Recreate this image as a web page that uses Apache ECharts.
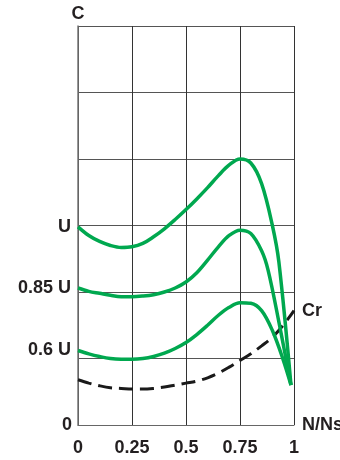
<!DOCTYPE html>
<html>
<head>
<meta charset="utf-8">
<script src="https://cdn.jsdelivr.net/npm/echarts@6/dist/echarts.min.js"></script>
<style>
html,body{margin:0;padding:0;background:#fff;}
#c{width:340px;height:460px;}
</style>
</head>
<body>
<div id="c"></div>
<script>
// Data (y in grid units: 0..6)
var xTickLabels = ['0', '0.25', '0.5', '0.75', '1'];
var curveNames = ['U', '0.85 U', '0.6 U'];

var xU = [0, 0.05, 0.1, 0.15, 0.2, 0.25, 0.3, 0.35, 0.4, 0.45, 0.5, 0.55, 0.6, 0.65, 0.7, 0.75, 0.8, 0.85, 0.9, 0.93, 0.986];
var yU = [2.98, 2.85, 2.76, 2.70, 2.67, 2.68, 2.73, 2.83, 2.95, 3.09, 3.24, 3.40, 3.57, 3.75, 3.91, 4.0, 3.94, 3.63, 3.0, 2.45, 0.6];

var x085 = [0, 0.05, 0.1, 0.15, 0.2, 0.25, 0.3, 0.35, 0.4, 0.45, 0.5, 0.55, 0.6, 0.65, 0.7, 0.75, 0.8, 0.85, 0.88, 0.93, 0.986];
var y085 = [2.06, 2.01, 1.98, 1.95, 1.93, 1.93, 1.94, 1.96, 2.0, 2.06, 2.15, 2.29, 2.48, 2.68, 2.85, 2.93, 2.88, 2.62, 2.33, 1.55, 0.6];

var x06 = [0, 0.05, 0.1, 0.15, 0.2, 0.25, 0.3, 0.35, 0.4, 0.45, 0.5, 0.55, 0.6, 0.65, 0.7, 0.75, 0.8, 0.85, 0.9, 0.95, 0.986];
var y06 = [1.12, 1.07, 1.03, 1.0, 0.99, 0.99, 1.0, 1.03, 1.08, 1.15, 1.24, 1.36, 1.5, 1.65, 1.77, 1.84, 1.83, 1.72, 1.42, 0.98, 0.6];

var xCr = [0, 0.05, 0.1, 0.15, 0.2, 0.25, 0.3, 0.35, 0.4, 0.45, 0.5, 0.55, 0.6, 0.65, 0.7, 0.75, 0.8, 0.85, 0.9, 0.95, 1];
var yCr = [0.68, 0.63, 0.59, 0.56, 0.55, 0.54, 0.54, 0.55, 0.57, 0.60, 0.63, 0.66, 0.71, 0.78, 0.87, 0.97, 1.07, 1.19, 1.32, 1.5, 1.72];

var FONT = 'Liberation Sans, Arial, Helvetica, sans-serif';
var TXT = '#231f20';
var GREEN = '#00a84f';

function build(xs, ys, startLabel, endLabel) {
  return xs.map(function (x, i) {
    var item = { value: [x, ys[i]] };
    if (i === 0 && startLabel) {
      item.label = { show: true, position: 'left', distance: 7, formatter: startLabel };
    }
    if (i === xs.length - 1 && endLabel) {
      item.label = { show: true, position: 'right', distance: 8, formatter: endLabel, padding: [5, 0, 0, 0] };
    }
    return item;
  });
}

var labelStyle = { color: TXT, fontFamily: FONT, fontWeight: 'bold', fontSize: 18 };

function greenSeries(xs, ys, name) {
  return {
    type: 'line', smooth: 0.35, symbol: 'circle', symbolSize: 0, showSymbol: true,
    data: build(xs, ys, name, null),
    lineStyle: { color: GREEN, width: 3.5 },
    itemStyle: { color: GREEN },
    label: Object.assign({ show: false }, labelStyle),
    z: 3, silent: true, animation: false
  };
}

var chart = echarts.init(document.getElementById('c'), null, { renderer: 'canvas' });
chart.setOption({
  backgroundColor: '#fff',
  animation: false,
  grid: { left: 78, right: 46, top: 26, bottom: 35, containLabel: false, outerBoundsMode: 'none' },
  xAxis: {
    type: 'value', min: 0, max: 1, interval: 0.25,
    name: 'N/Ns', nameLocation: 'end', nameGap: 8,
    nameTextStyle: { color: TXT, fontFamily: FONT, fontWeight: 'bold', fontSize: 18, verticalAlign: 'middle', padding: [7, 0, 0, 0] },
    axisLine: { show: true, lineStyle: { color: '#666', width: 1 } },
    axisTick: { show: false },
    axisLabel: {
      color: TXT, fontFamily: FONT, fontWeight: 'bold', fontSize: 18, margin: 14,
      formatter: function (v) { var i = Math.round(v / 0.25); return xTickLabels[i]; }
    },
    splitLine: { show: true, lineStyle: { color: '#333', width: 1 } }
  },
  yAxis: {
    type: 'value', min: 0, max: 6, interval: 1,
    name: 'C', nameLocation: 'end', nameGap: 3,
    nameTextStyle: { color: TXT, fontFamily: FONT, fontWeight: 'bold', fontSize: 18, align: 'center' },
    axisLine: { show: true, lineStyle: { color: '#777', width: 1.5 } },
    axisTick: { show: false },
    axisLabel: {
      color: TXT, fontFamily: FONT, fontWeight: 'bold', fontSize: 18, margin: 6, padding: [8, 0, 0, 0],
      formatter: function (v) { return v === 0 ? '0' : ''; }
    },
    splitLine: { show: true, lineStyle: { color: '#555', width: 1 } }
  },
  series: [
    greenSeries(xU, yU, curveNames[0]),
    greenSeries(x085, y085, curveNames[1]),
    greenSeries(x06, y06, curveNames[2]),
    {
      type: 'line', smooth: 0.35, symbol: 'circle', symbolSize: 0, showSymbol: true,
      data: build(xCr, yCr, null, 'Cr'),
      lineStyle: { color: '#1a1a1a', width: 3, type: [14, 7] },
      itemStyle: { color: '#1a1a1a' },
      label: Object.assign({ show: false }, labelStyle),
      z: 2, silent: true, animation: false
    }
  ]
});
</script>
</body>
</html>
